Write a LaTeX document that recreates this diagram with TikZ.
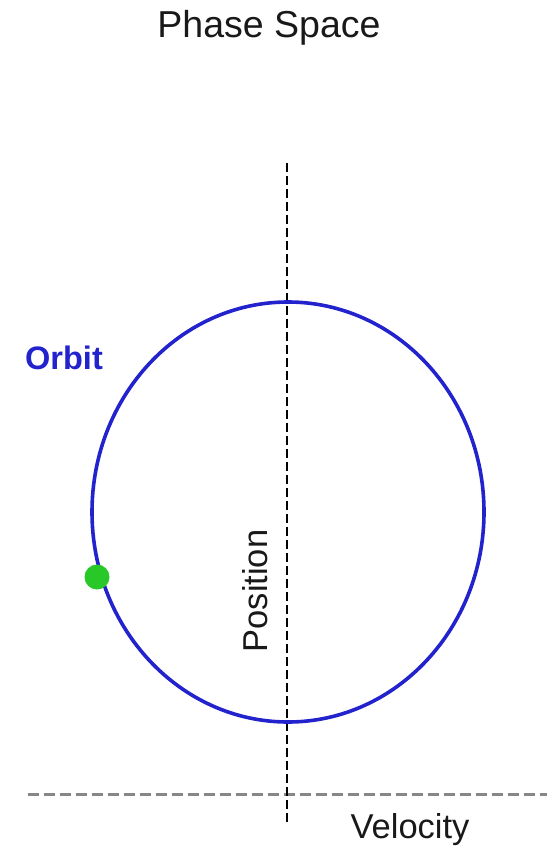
\documentclass[tikz,border=0pt]{standalone}
\usepackage{fontspec}
\setmainfont{Liberation Sans}
\usepackage{tikz}
\usetikzlibrary{positioning, calc}
\definecolor{orbitblue}{RGB}{35,35,205}
\definecolor{dotgreen}{RGB}{40,200,40}
\definecolor{axisgray}{RGB}{135,135,135}
\tikzset{every node/.append style={align=center, inner sep=0pt}}

\begin{document}
\begin{tikzpicture}[
    x=1pt, y=-1pt,
    label/.style={font=\fontsize{34.5}{38}\selectfont, text=black!90},
    orbit/.style={draw=orbitblue, line width=3.6pt},
    posaxis/.style={draw=black, line width=1.9pt, dash pattern=on 9pt off 4pt},
    velaxis/.style={draw=axisgray, line width=3pt, dash pattern=on 11pt off 5pt}
]
\useasboundingbox (0,0) rectangle (547,848);
% title
\node[label, font=\fontsize{37.5}{40}\selectfont] (title) at (269,28) {Phase Space};
% axes
\coordinate (ptop) at (287,163);
\coordinate (pbot) at (287,825);
\coordinate (vleft) at (28,794);
\coordinate (vright) at (547,794);
\draw[velaxis] (vleft) -- (vright);
\draw[posaxis] (ptop) -- (pbot);
\node[label, rotate=90] (pos) at (255,591) {Position};
\node[label] (vel) at (410,830) {Velocity};
% orbit
\coordinate (centre) at (288,512);
\draw[orbit] (centre) ellipse [x radius=196, y radius=210];
\node[label, text=orbitblue, font=\bfseries\fontsize{32.5}{36}\selectfont] (orbitlbl) at (64,358) {Orbit};
\node[circle, fill=dotgreen, minimum size=25pt] (dot) at (97,577) {};
\end{tikzpicture}
\end{document}
